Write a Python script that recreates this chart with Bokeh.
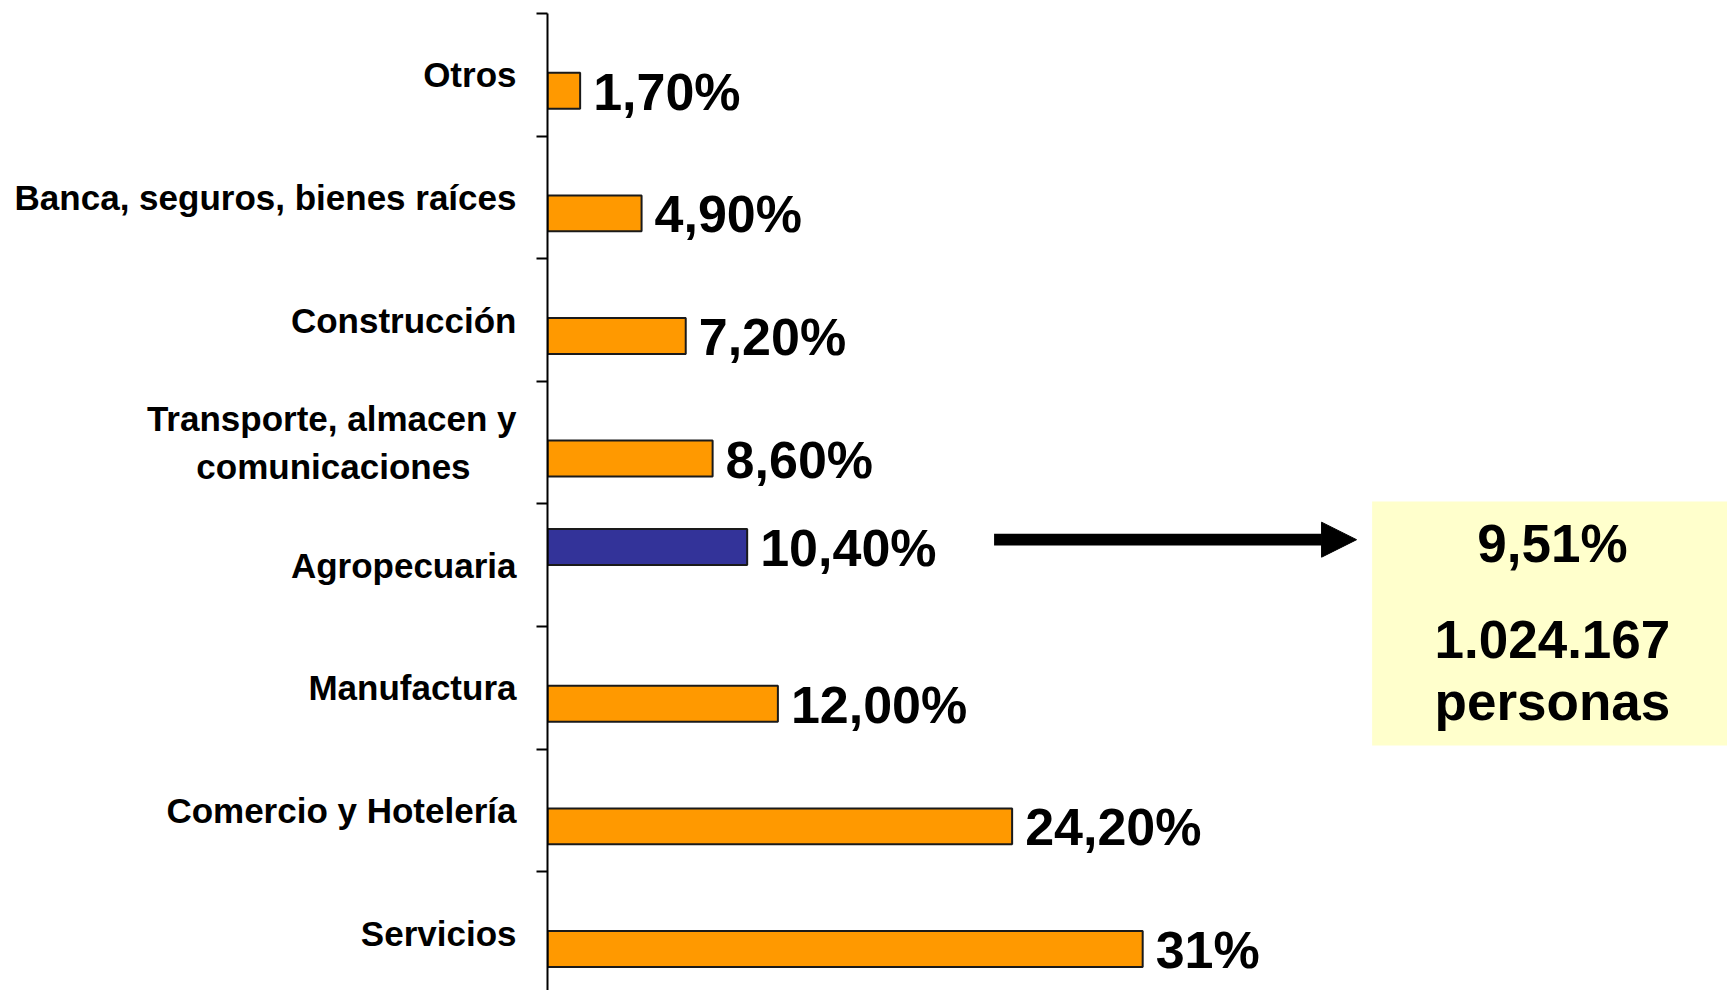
from bokeh.plotting import figure
from bokeh.models import Range1d, FixedTicker, ColumnDataSource, Arrow, NormalHead, BoxAnnotation, Label
from bokeh.transform import dodge
from bokeh.core.properties import value
from bokeh.embed import file_html
from bokeh.resources import INLINE

# ---- data (top to bottom) ----
categories = ["Otros", "Banca, seguros, bienes raíces", "Construcción",
              "Transporte, almacen y\ncomunicaciones", "Agropecuaria",
              "Manufactura", "Comercio y Hotelería", "Servicios"]
values = [1.7, 4.9, 7.2, 8.6, 10.4, 12.0, 24.2, 31.0]
value_labels = ["1,70%", "4,90%", "7,20%", "8,60%", "10,40%", "12,00%", "24,20%", "31%"]
series = ["orange", "orange", "orange", "orange", "blue", "orange", "orange", "orange"]
highlight_pct = "9,51%"
highlight_people = "1.024.167"
highlight_unit = "personas"

series_colors = {"blue": "#333399", "orange": "#FF9900"}
series_offsets = {"blue": 0.148, "orange": -0.13}

FONT = "Liberation Sans"
n = len(categories)
ypos = [n - i - 0.5 for i in range(n)]

p = figure(width=1727, height=990,
           x_range=Range1d(0, 61.46), y_range=Range1d(0.031, 8),
           x_axis_location=None, toolbar_location=None, output_backend="svg",
           min_border_left=547, min_border_right=0, min_border_top=13, min_border_bottom=0)
p.outline_line_color = None
p.xgrid.visible = False
p.ygrid.visible = False

for s in ["blue", "orange"]:
    idx = [i for i in range(n) if series[i] == s]
    src = ColumnDataSource(dict(
        y=[ypos[i] for i in idx],
        v=[values[i] for i in idx],
        lab=[value_labels[i] for i in idx],
    ))
    yd = dodge("y", series_offsets[s], range=p.y_range)
    p.hbar(y=yd, left=0, right="v", height=0.293, source=src,
           fill_color=series_colors[s], line_color="#1a1a1a", line_width=2)
    p.text(x="v", y=yd, text="lab", source=src, x_offset=13, y_offset=1,
           text_align="left", text_baseline="alphabetic",
           text_font=value(FONT), text_font_size="52px", text_font_style="bold",
           text_color="black")


def centre_lines(label):
    # the axis right-aligns each line; pad shorter lines with no-break spaces
    # so that the lines look centred on each other, as in the original
    lines = label.split("\n")
    if len(lines) == 1:
        return label
    longest = max(len(l) for l in lines)
    pad = "\u00a0" * 4 + "\u2009"
    return "\n".join(l if len(l) == longest else l + pad for l in lines)


ax = p.yaxis[0]
ax.ticker = FixedTicker(ticks=ypos, minor_ticks=list(range(0, n + 1)))
ax.major_label_overrides = {y: centre_lines(c) for y, c in zip(ypos, categories)}
ax.major_tick_out = 0
ax.major_tick_in = 0
ax.minor_tick_out = 11
ax.minor_tick_in = 0
ax.minor_tick_line_width = 2
ax.minor_tick_line_color = "black"
ax.axis_line_width = 2
ax.axis_line_color = "black"
ax.major_label_standoff = 20
ax.major_label_text_font = FONT
ax.major_label_text_font_style = "bold"
ax.major_label_text_font_size = "35px"
ax.major_label_text_color = "black"
ax.major_label_text_line_height = 1.24

# highlight box and arrow (annotations)
box = BoxAnnotation(left=42.95, bottom=2.03, top=4.02, fill_color="#FFFFCC",
                    fill_alpha=1.0, line_color=None)
p.add_layout(box)

p.add_layout(Arrow(end=NormalHead(size=35, fill_color="black", line_color="black"),
                   x_start=23.26, y_start=3.708, x_end=42.14, y_end=3.708,
                   line_width=11.7, line_color="black"))

for txt, yy in [(highlight_pct, 3.679), (highlight_people, 2.896), (highlight_unit, 2.386)]:
    p.add_layout(Label(x=52.34, y=yy, text=txt, text_align="center",
                       text_baseline="alphabetic", text_font=FONT,
                       text_font_size="53px", text_font_style="bold",
                       text_color="black"))

open("out.html", "w").write(file_html(p, INLINE))
